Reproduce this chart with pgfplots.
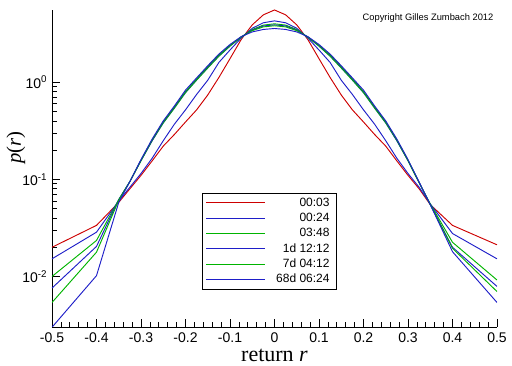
\documentclass[border=0pt]{standalone}
\usepackage{fontspec}
\setmainfont{Liberation Sans}
\newfontfamily\serif{Liberation Serif}
\usepackage{pgfplots}
\pgfplotsset{compat=1.18}
\definecolor{cred}{RGB}{205,0,0}
\definecolor{cblue}{RGB}{30,30,200}
\definecolor{cgreen}{RGB}{0,180,0}
\newcommand{\lbox}[1]{\makebox[46pt][r]{#1}}
\begin{document}
\begin{tikzpicture}
\begin{axis}[
  name=ax, at={(0,0)}, anchor=south west,
  scale only axis, width=333.75pt, height=237.75pt,
  ymode=log, xmin=-0.5, xmax=0.5, ymin=0.00302, ymax=5.55,
  axis lines=left, axis line style={-, line width=0.6pt},
  xtick={-0.5,-0.4,-0.3,-0.2,-0.1,0,0.1,0.2,0.3,0.4,0.5},
  xticklabels={-0.5,-0.4,-0.3,-0.2,-0.1,0,0.1,0.2,0.3,0.4,0.5},
  minor x tick num=4,
  ytick={0.01,0.1,1},
  yticklabels={10\textsuperscript{-2},10\textsuperscript{-1},10\textsuperscript{0}},
  tick align=inside,
  major tick length=6pt, minor tick length=3.5pt,
  tick style={line width=0.5pt, black},
  ticklabel style={font=\fontsize{10.5}{12}\selectfont},
  xticklabel style={yshift=-1pt},
  /pgf/number format/assume math mode=true,
  xlabel={\serif return \textit{r}},
  ylabel={\serif\textit{p}(\textit{r})},
  every axis x label/.style={at={(rel axis cs:0.5,-0.1073)}, anchor=base, font=\fontsize{16.5}{18}\selectfont},
  every axis y label/.style={at={(rel axis cs:-0.0809,0.565)}, rotate=90, anchor=center, font=\fontsize{15.5}{17}\selectfont},
  legend style={at={(0.336,0.424)}, anchor=north west, draw=black, line width=0.6pt,
    font=\fontsize{9}{10}\selectfont, row sep=2.5pt, inner xsep=3pt, inner ysep=3pt,
    nodes={inner ysep=0pt, text height=7pt, text depth=2pt}},
  legend cell align=right,
  legend image code/.code={\draw[#1, line width=0.75pt] (0pt,0pt) -- (44pt,0pt);},
  every axis plot/.append style={line width=0.7pt, no marks},
]
% 00:03
\addplot[cred] coordinates {
(-0.5,0.0200) (-0.4,0.0336) (-0.35,0.058) (-0.325,0.080) (-0.3,0.110) (-0.275,0.155)
(-0.25,0.22) (-0.225,0.29) (-0.2,0.39) (-0.175,0.52) (-0.15,0.74) (-0.125,1.12)
(-0.1,1.75) (-0.075,2.75) (-0.05,3.9) (-0.025,4.95) (0,5.55)
(0.025,4.95) (0.05,3.9) (0.075,2.75) (0.1,1.75) (0.125,1.12) (0.15,0.74)
(0.175,0.52) (0.2,0.39) (0.225,0.29) (0.25,0.22) (0.275,0.155) (0.3,0.110)
(0.325,0.080) (0.35,0.055) (0.4,0.0336) (0.5,0.0212)};
% 00:24
\addplot[cblue] coordinates {
(-0.5,0.0152) (-0.4,0.0286) (-0.35,0.060) (-0.325,0.083) (-0.3,0.115) (-0.275,0.165)
(-0.25,0.25) (-0.225,0.37) (-0.2,0.52) (-0.175,0.75) (-0.15,1.05) (-0.125,1.6)
(-0.1,2.15) (-0.075,2.85) (-0.05,3.6) (-0.025,4.1) (0,4.29)
(0.025,4.1) (0.05,3.6) (0.075,2.85) (0.1,2.15) (0.125,1.6) (0.15,1.05)
(0.175,0.75) (0.2,0.52) (0.225,0.37) (0.25,0.25) (0.275,0.165) (0.3,0.115)
(0.325,0.083) (0.35,0.056) (0.4,0.0277) (0.5,0.0152)};
% 03:48
\addplot[cgreen] coordinates {
(-0.5,0.0100) (-0.4,0.0235) (-0.35,0.062) (-0.325,0.095) (-0.3,0.155) (-0.275,0.25)
(-0.25,0.38) (-0.225,0.54) (-0.2,0.78) (-0.175,1.05) (-0.15,1.40) (-0.125,1.85)
(-0.1,2.35) (-0.075,2.90) (-0.05,3.5) (-0.025,3.88) (0,4.0)
(0.025,3.88) (0.05,3.5) (0.075,2.90) (0.1,2.35) (0.125,1.85) (0.15,1.40)
(0.175,1.05) (0.2,0.78) (0.225,0.54) (0.25,0.38) (0.275,0.25) (0.3,0.155)
(0.325,0.092) (0.35,0.056) (0.4,0.0225) (0.5,0.0092)};
% 1d 12:12
\addplot[cblue] coordinates {
(-0.5,0.0076) (-0.4,0.0204) (-0.35,0.062) (-0.325,0.095) (-0.3,0.157) (-0.275,0.25)
(-0.25,0.385) (-0.225,0.55) (-0.2,0.79) (-0.175,1.07) (-0.15,1.43) (-0.125,1.88)
(-0.1,2.38) (-0.075,2.92) (-0.05,3.45) (-0.025,3.8) (0,3.9)
(0.025,3.8) (0.05,3.45) (0.075,2.92) (0.1,2.38) (0.125,1.88) (0.15,1.43)
(0.175,1.07) (0.2,0.79) (0.225,0.55) (0.25,0.385) (0.275,0.25) (0.3,0.157)
(0.325,0.093) (0.35,0.055) (0.4,0.0200) (0.5,0.0079)};
% 7d 04:12
\addplot[cgreen] coordinates {
(-0.5,0.0054) (-0.4,0.0178) (-0.35,0.061) (-0.325,0.095) (-0.3,0.158) (-0.275,0.255)
(-0.25,0.39) (-0.225,0.555) (-0.2,0.80) (-0.175,1.08) (-0.15,1.45) (-0.125,1.90)
(-0.1,2.40) (-0.075,2.93) (-0.05,3.4) (-0.025,3.72) (0,3.82)
(0.025,3.72) (0.05,3.4) (0.075,2.93) (0.1,2.40) (0.125,1.90) (0.15,1.45)
(0.175,1.08) (0.2,0.80) (0.225,0.555) (0.25,0.39) (0.275,0.255) (0.3,0.158)
(0.325,0.093) (0.35,0.055) (0.4,0.0195) (0.5,0.0070)};
% 68d 06:24
\addplot[cblue] coordinates {
(-0.5,0.0030) (-0.4,0.0102) (-0.35,0.058) (-0.325,0.095) (-0.3,0.16) (-0.275,0.26)
(-0.25,0.40) (-0.225,0.57) (-0.2,0.83) (-0.175,1.11) (-0.15,1.48) (-0.125,1.95)
(-0.1,2.45) (-0.075,2.95) (-0.05,3.3) (-0.025,3.5) (0,3.58)
(0.025,3.5) (0.05,3.3) (0.075,2.95) (0.1,2.45) (0.125,1.95) (0.15,1.48)
(0.175,1.11) (0.2,0.83) (0.225,0.57) (0.25,0.40) (0.275,0.26) (0.3,0.16)
(0.325,0.094) (0.35,0.055) (0.4,0.0180) (0.5,0.0054)};
\legend{\lbox{00:03},\lbox{00:24},\lbox{03:48},\lbox{1d 12:12},\lbox{7d 04:12},\lbox{68d 06:24}}
\end{axis}
\node[font=\fontsize{7}{8}\selectfont] at (282pt,231.75pt) {Copyright Gilles Zumbach 2012};
\pgfresetboundingbox
\path[use as bounding box] (-39pt,-29.25pt) rectangle (345pt,245.25pt);
\end{tikzpicture}
\end{document}
